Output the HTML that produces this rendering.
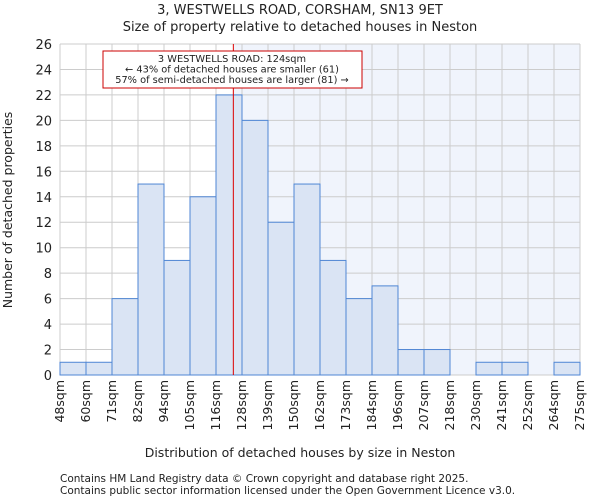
<!DOCTYPE html>
<html><head><meta charset="utf-8"><style>
body{margin:0;background:#fff;font-family:"DejaVu Sans","Liberation Sans",sans-serif;}
svg text{font-family:"DejaVu Sans","Liberation Sans",sans-serif;fill:#222;}
</style></head><body>
<svg id="c" width="600" height="500" xmlns="http://www.w3.org/2000/svg">
<text x="300" y="14" font-size="13" text-anchor="middle">3, WESTWELLS ROAD, CORSHAM, SN13 9ET</text>
<text x="300" y="31" font-size="13" text-anchor="middle">Size of property relative to detached houses in Neston</text>
<g id="plot"></g>
<text x="300" y="457" font-size="12.5" text-anchor="middle">Distribution of detached houses by size in Neston</text>
<text x="12" y="210" font-size="12.5" text-anchor="middle" transform="rotate(-90 12 210)">Number of detached properties</text>
<text x="60" y="482" font-size="10.5">Contains HM Land Registry data © Crown copyright and database right 2025.</text>
<text x="60" y="494" font-size="10.5">Contains public sector information licensed under the Open Government Licence v3.0.</text>
</svg>
<script>
const binLabels=["48sqm","60sqm","71sqm","82sqm","94sqm","105sqm","116sqm","128sqm","139sqm","150sqm","162sqm","173sqm","184sqm","196sqm","207sqm","218sqm","230sqm","241sqm","252sqm","264sqm","275sqm"];
const counts=[1,1,6,15,9,14,22,20,12,15,9,6,7,2,2,0,1,1,0,1];
const yTicks=[0,2,4,6,8,10,12,14,16,18,20,22,24,26];
const markerBin=6+8/12; // 124sqm within 116-128 bin
const L=60,R=580,T=44,B=375,yMax=26;
const n=counts.length,bw=(R-L)/n;
const xs=i=>L+i*bw;
const ys=v=>B-(v/yMax)*(B-T);
const g=document.getElementById('plot');
const NS="http://www.w3.org/2000/svg";
function mk(t,a){const e=document.createElementNS(NS,t);for(const k in a)e.setAttribute(k,a[k]);g.appendChild(e);return e;}
const mx=xs(markerBin);
let e=mk('rect',{x:L,y:T,width:mx-L,height:B-T,fill:'#ffffff'});


e=mk('rect',{x:mx,y:T,width:R-mx,height:B-T,fill:'#f0f4fc'});


for(let i=0;i<=n;i++){e=mk('line',{x1:xs(i),x2:xs(i),y1:T,y2:B,stroke:'#cccccc','stroke-width':1});

}
yTicks.forEach(v=>{e=mk('line',{x1:L,x2:R,y1:ys(v),y2:ys(v),stroke:'#cccccc','stroke-width':1});


e=mk('text',{x:L-8,y:ys(v)+5,'font-size':13,'text-anchor':'end'});e.textContent=v;

});
counts.forEach((c,i)=>{if(c<=0)return;e=mk('rect',{x:xs(i),y:ys(c),width:bw,height:B-ys(c),fill:'#dae4f4',stroke:'#4f86d4','stroke-width':1});

});
binLabels.forEach((l,i)=>{const x=xs(i)+4,y=380;e=mk('text',{x:x,y:y,'font-size':12.5,'text-anchor':'end',transform:`rotate(-90 ${x} ${y})`});e.textContent=l;

});
e=mk('line',{x1:mx,x2:mx,y1:T,y2:B,stroke:'#dd0000','stroke-width':1});


e=mk('rect',{x:103,y:51,width:259,height:37,fill:'#fff',stroke:'#cc0000','stroke-width':1});


["3 WESTWELLS ROAD: 124sqm","← 43% of detached houses are smaller (61)","57% of semi-detached houses are larger (81) →"].forEach((t,i)=>{e=mk('text',{x:232,y:62+i*10.5,'font-size':9.8,'text-anchor':'middle'});e.textContent=t;

});
</script>
</body></html>
